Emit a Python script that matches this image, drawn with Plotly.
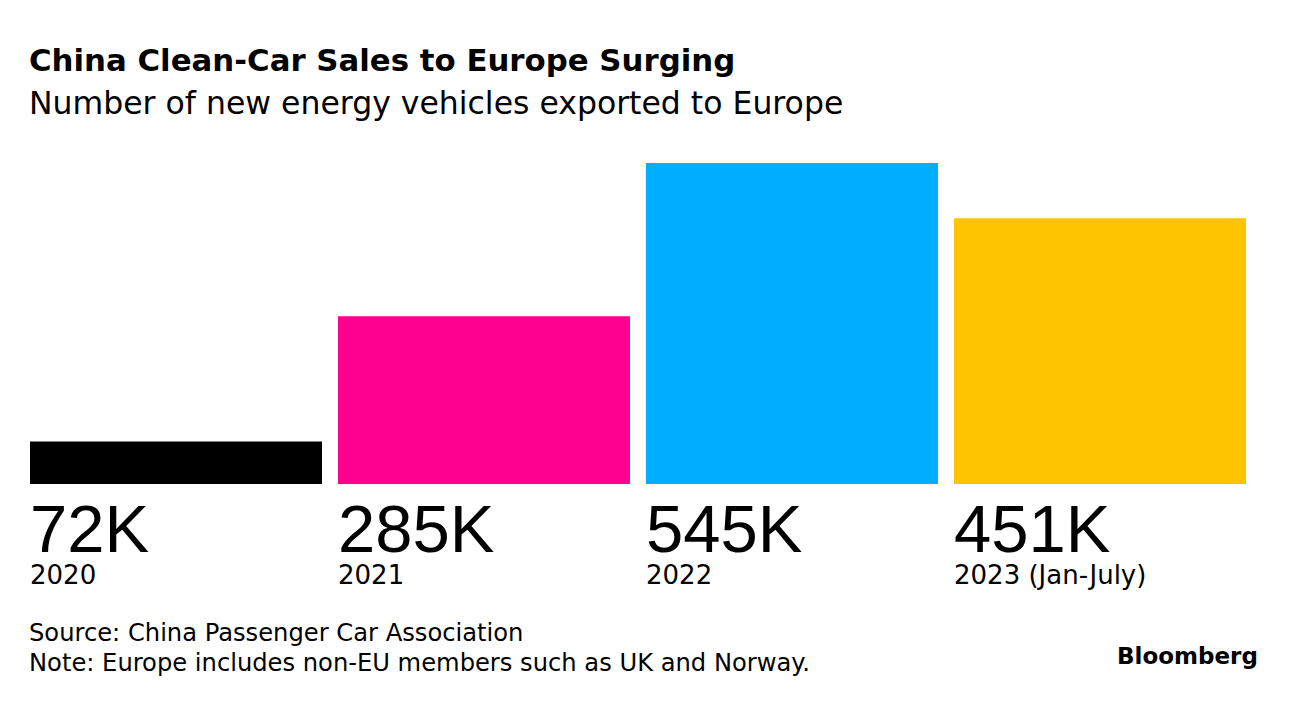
import plotly.graph_objects as go

categories = ["2020", "2021", "2022", "2023 (Jan-July)"]
values = [72000, 285000, 545000, 451000]
value_labels = ["72K", "285K", "545K", "451K"]
colors = ["#000000", "#FF0090", "#00AEFF", "#FFC400"]

title = "China Clean-Car Sales to Europe Surging"
subtitle = "Number of new energy vehicles exported to Europe"
source = "Source: China Passenger Car Association"
note = "Note: Europe includes non-EU members such as UK and Norway."
brand = "Bloomberg"

W, H = 1296, 702
# plot area in page pixels
PL, PR, PT, PB = 22, 1254, 150, 484

BIG = "Liberation Sans"
TXT = "DejaVu Sans"

fig = go.Figure()
fig.add_trace(go.Bar(
    x=categories, y=values, marker=dict(color=colors, line=dict(width=0)),
    hoverinfo="skip", showlegend=False,
))


def page_ann(text, x, y, size, family, bold=False, anchor="left"):
    return dict(x=(x - PL) / (PR - PL), y=(PB - y) / (PB - PT),
                xref="paper", yref="paper",
                text=("<b>%s</b>" % text) if bold else text, showarrow=False,
                xanchor=anchor, yanchor="middle", borderpad=0,
                font=dict(family=family, size=size, color="#000000"))


annots = []
for i, (cat, lab) in enumerate(zip(categories, value_labels)):
    txt = ("<span style='font-size:67px;font-family:\"%s\"'>%s</span><br>"
           "<span style='font-size:26px'>%s</span>") % (BIG, lab, cat)
    annots.append(dict(x=i, xref="x", xshift=-147, y=(PB - 490) / (PB - PT), yref="paper",
                       text=txt, showarrow=False, xanchor="left", yanchor="top",
                       align="left", borderpad=0,
                       font=dict(family=TXT, size=24.6, color="#000000")))

annots.append(page_ann(title, 28, 60, 30.8, TXT, bold=True))
annots.append(page_ann(subtitle, 28, 103, 31.5, TXT))
annots.append(page_ann(source, 28, 633, 24.2, TXT))
annots.append(page_ann(note, 28, 663, 24.2, TXT))
annots.append(page_ann(brand, 1259, 656, 23, TXT, bold=True, anchor="right"))

fig.update_layout(
    width=W, height=H,
    margin=dict(l=PL, r=W - PR, t=PT, b=H - PB, pad=0),
    paper_bgcolor="#FFFFFF", plot_bgcolor="#FFFFFF",
    bargap=16 / 308,
    xaxis=dict(visible=False, type="category", range=[-0.5, 3.5], fixedrange=True),
    yaxis=dict(visible=False, range=[0, (PB - PT) / 321 * 545000], fixedrange=True),
    annotations=annots,
)

fig.write_html("out.html", config={"displayModeBar": False})
